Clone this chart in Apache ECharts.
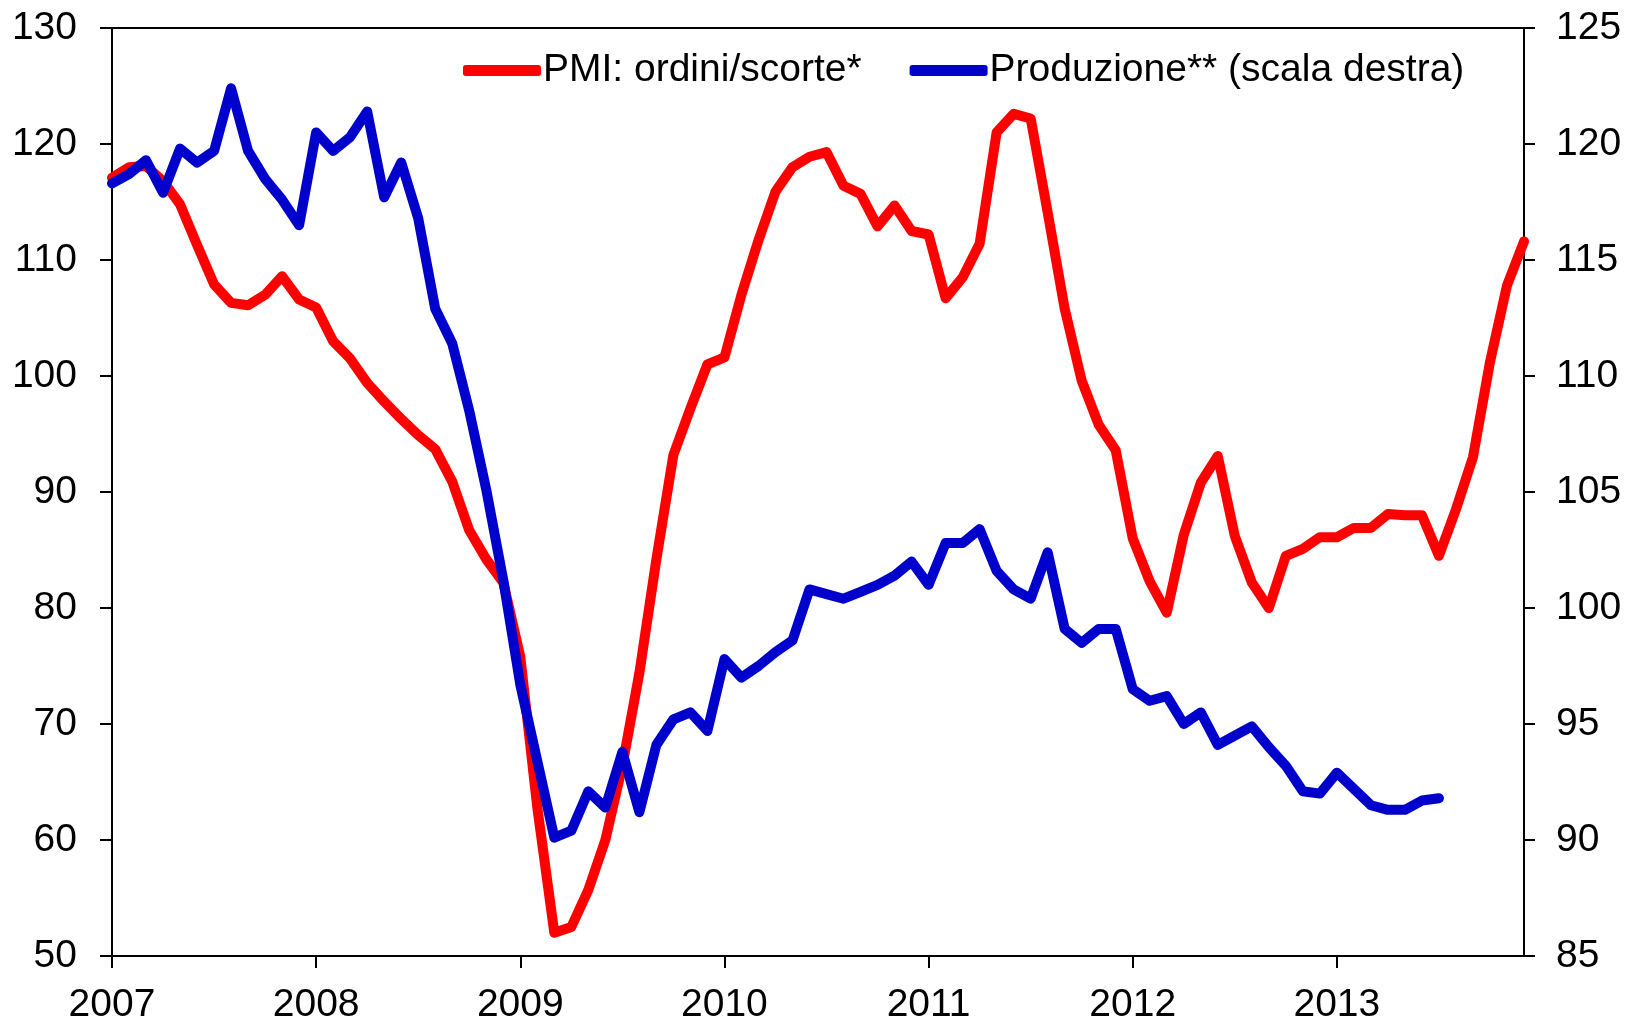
<!DOCTYPE html>
<html>
<head>
<meta charset="utf-8">
<title>PMI e produzione</title>
<script src="https://cdn.jsdelivr.net/npm/echarts@6/dist/echarts.min.js"></script>
<style>
  html, body { margin: 0; padding: 0; background: #fff; }
  #chart { width: 1626px; height: 1025px; }
</style>
</head>
<body>
<div id="chart"></div>
<script>
// anni sull'asse x, dati mensili da gennaio 2007 a dicembre 2013
const years = ['2007', '2008', '2009', '2010', '2011', '2012', '2013'];

// PMI: ordini/scorte (scala sinistra)
const pmi = [
  117.1, 118.0, 118.1, 116.8, 114.8, 111.3, 107.9, 106.3, 106.1, 107.0, 108.6, 106.6,
  105.9, 103.0, 101.5, 99.4, 97.8, 96.3, 94.9, 93.7, 90.9, 86.7, 84.2, 82.2,
  75.8, 62.8, 52.0, 52.5, 55.7, 60.0, 66.4, 74.4, 84.2, 93.2, 97.2, 101.0,
  101.6, 107.0, 111.7, 115.9, 118.0, 118.9, 119.3, 116.4, 115.7, 112.9, 114.7, 112.5,
  112.2, 106.7, 108.5, 111.4, 121.0, 122.6, 122.2, 114.1, 105.8, 99.6, 95.8, 93.6,
  86.0, 82.3, 79.6, 86.3, 90.8, 93.1, 86.2, 82.2, 80.0, 84.5, 85.1, 86.1,
  86.1, 86.9, 86.9, 88.1, 88.0, 88.0, 84.5, 88.5, 93.0, 101.2, 107.8, 111.6
];

// Produzione (scala destra), fino a luglio 2013
const produzione = [
  118.3, 118.7, 119.3, 117.9, 119.8, 119.2, 119.7, 122.4, 119.7, 118.5, 117.6, 116.5,
  120.5, 119.7, 120.3, 121.4, 117.7, 119.2, 116.8, 112.9, 111.4, 108.5, 105.1, 101.2,
  96.7, 93.4, 90.1, 90.4, 92.1, 91.4, 93.8, 91.2, 94.1, 95.2, 95.5, 94.7,
  97.8, 97.0, 97.5, 98.1, 98.6, 100.8, 100.6, 100.4, 100.7, 101.0, 101.4, 102.0,
  101.0, 102.8, 102.8, 103.4, 101.6, 100.8, 100.4, 102.4, 99.1, 98.5, 99.1, 99.1,
  96.5, 96.0, 96.2, 95.0, 95.5, 94.1, 94.5, 94.9, 94.0, 93.2, 92.1, 92.0,
  92.9, 92.2, 91.5, 91.3, 91.3, 91.7, 91.8
];

const months = [];
years.forEach(function (y) {
  for (let m = 1; m <= 12; m++) {
    months.push(y + '-' + (m < 10 ? '0' + m : m));
  }
});

const font = 'Liberation Sans, Arial, sans-serif';
const axisColor = '#000';

const myChart = echarts.init(document.getElementById('chart'));
myChart.setOption({
  animation: false,
  backgroundColor: '#fff',
  textStyle: { fontFamily: font },
  grid: {
    left: 112,
    right: 102,
    top: 28,
    bottom: 66,
    show: true,
    borderColor: axisColor,
    borderWidth: 2,
    containLabel: false
  },
  legend: {
    left: 458,
    top: 46,
    itemGap: 48,
    itemWidth: 78,
    itemHeight: 11,
    icon: 'roundRect',
    textStyle: { fontSize: 39, color: '#000', fontFamily: font, padding: [0, 0, 0, -3] },
    data: ['PMI: ordini/scorte*', 'Produzione** (scala destra)']
  },
  xAxis: {
    type: 'category',
    boundaryGap: false,
    data: months,
    axisLine: { lineStyle: { color: axisColor, width: 2 } },
    axisTick: { interval: 11, length: 12, lineStyle: { color: axisColor, width: 2 } },
    axisLabel: {
      interval: 11,
      margin: 30,
      fontSize: 39,
      color: '#000',
      formatter: function (v) { return v.slice(0, 4); }
    },
    splitLine: { show: false }
  },
  yAxis: [
    {
      type: 'value',
      min: 50,
      max: 130,
      interval: 10,
      position: 'left',
      axisLine: { show: true, lineStyle: { color: axisColor, width: 2 } },
      axisTick: { show: true, length: 12, lineStyle: { color: axisColor, width: 2 } },
      axisLabel: { margin: 35, fontSize: 39, color: '#000' },
      splitLine: { show: false }
    },
    {
      type: 'value',
      min: 85,
      max: 125,
      interval: 5,
      position: 'right',
      axisLine: { show: true, lineStyle: { color: axisColor, width: 2 } },
      axisTick: { show: true, length: 11, lineStyle: { color: axisColor, width: 2 } },
      axisLabel: { margin: 32, fontSize: 39, color: '#000' },
      splitLine: { show: false }
    }
  ],
  series: [
    {
      name: 'PMI: ordini/scorte*',
      type: 'line',
      yAxisIndex: 0,
      data: pmi,
      symbol: 'none',
      color: '#ff0000',
      lineStyle: { color: '#ff0000', width: 10, cap: 'round', join: 'round' }
    },
    {
      name: 'Produzione** (scala destra)',
      type: 'line',
      yAxisIndex: 1,
      data: produzione,
      symbol: 'none',
      color: '#0000cc',
      lineStyle: { color: '#0000cc', width: 10, cap: 'round', join: 'round' }
    }
  ]
});
</script>
</body>
</html>
